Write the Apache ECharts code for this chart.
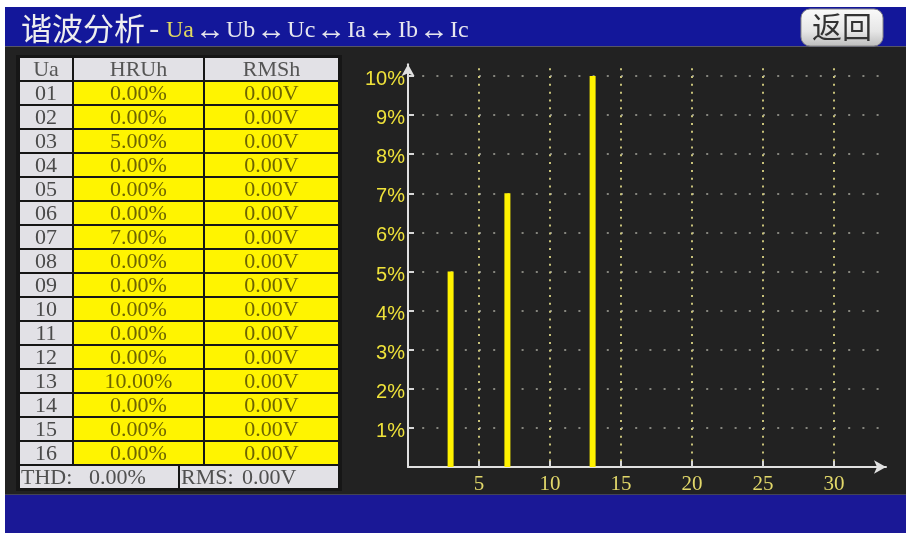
<!DOCTYPE html>
<html><head><meta charset="utf-8">
<script src="https://cdn.jsdelivr.net/npm/echarts@6/dist/echarts.min.js"></script>
<style>html,body{margin:0;padding:0;background:#fff;}#c{width:906px;height:533px;}</style>
</head><body><div id="c"></div>
<script>
// ---- data ----
const harmonicLabels = ['01','02','03','04','05','06','07','08','09','10','11','12','13','14','15','16'];
const harmonicOrders = [1,2,3,4,5,6,7,8,9,10,11,12,13,14,15,16];
const hruPercent = [0,0,5,0,0,0,7,0,0,0,0,0,10,0,0,0];
const rmsVolts = [0,0,0,0,0,0,0,0,0,0,0,0,0,0,0,0];
const thdPercent = 0;
const rmsTotalVolts = 0;
const tableHeaders = ['Ua','HRUh','RMSh'];
const channelNames = ['Ua','Ub','Uc','Ia','Ib','Ic'];
const xTickValues = [5,10,15,20,25,30];
const yTickValues = [1,2,3,4,5,6,7,8,9,10];

// ---- layout / style ----
const SERIF = '"Liberation Serif", "DejaVu Serif", serif';
const CJK = '"Noto Sans CJK SC", sans-serif';
const GRAY_CELL = '#e2e1e6';
const YELLOW_CELL = '#fff400';
const colX = [20, 74, 205];
const colW = [52, 129, 133];
const rowTop0 = 58, rowPitch = 24, rowH = 22;

const els = [];
// backgrounds
els.push({type:'rect', z:-100, shape:{x:5,y:7,width:901,height:40}, style:{fill:'#13179a'}});
els.push({type:'rect', z:-100, shape:{x:5,y:46,width:901,height:449}, style:{fill:'#222222'}});
els.push({type:'rect', z:-99, shape:{x:5,y:46,width:901,height:1}, style:{fill:'#555566'}});
els.push({type:'rect', z:-100, shape:{x:5,y:494,width:901,height:39}, style:{fill:'#1a1896'}});
els.push({type:'rect', z:-99, shape:{x:5,y:494,width:901,height:1}, style:{fill:'#444455'}});
// table frame
els.push({type:'rect', z:-98, shape:{x:16,y:55,width:326,height:436}, style:{fill:'#161616'}});

function cell(x, y, w, h, fill) {
  els.push({type:'rect', z:-90, shape:{x:x,y:y,width:w,height:h}, style:{fill:fill}});
}
function txt(text, x, y, fill, align, font) {
  els.push({type:'text', z:-80, x:x, y:y, style:{text:text, fill:fill, font:font || ('22px ' + SERIF), align:align || 'center', verticalAlign:'middle'}});
}
// header row
tableHeaders.forEach((h, c) => {
  cell(colX[c], rowTop0, colW[c], rowH, GRAY_CELL);
  txt(h, colX[c] + colW[c] / 2, rowTop0 + rowH / 2 + 1, '#555555');
});
// data rows
harmonicLabels.forEach((lab, i) => {
  const top = rowTop0 + rowPitch * (i + 1);
  cell(colX[0], top, colW[0], rowH, GRAY_CELL);
  cell(colX[1], top, colW[1], rowH, YELLOW_CELL);
  cell(colX[2], top, colW[2], rowH, YELLOW_CELL);
  txt(lab, colX[0] + colW[0] / 2, top + rowH / 2 + 1, '#4a4a4a');
  txt(hruPercent[i].toFixed(2) + '%', colX[1] + colW[1] / 2, top + rowH / 2 + 1, '#6f6500');
  txt(rmsVolts[i].toFixed(2) + 'V', colX[2] + colW[2] / 2, top + rowH / 2 + 1, '#6f6500');
});
// summary row
const sumTop = rowTop0 + rowPitch * 17;
cell(20, sumTop, 158, rowH, GRAY_CELL);
cell(180, sumTop, 158, rowH, GRAY_CELL);
txt('THD:', 21, sumTop + rowH / 2 + 1, '#505050', 'left');
txt(thdPercent.toFixed(2) + '%', 89, sumTop + rowH / 2 + 1, '#505050', 'left');
txt('RMS:', 181, sumTop + rowH / 2 + 1, '#505050', 'left');
txt(rmsTotalVolts.toFixed(2) + 'V', 242, sumTop + rowH / 2 + 1, '#505050', 'left');

// title: Chinese part
els.push({type:'text', z:-80, x:21, y:28, style:{
  text:'{t|谐波分析}{d|-}', verticalAlign:'middle', align:'left',
  rich:{
    t:{font:'31px ' + CJK, fill:'#eeeeee'},
    d:{font:'30px ' + CJK, fill:'#e6e6ee', padding:[0,0,0,4]}
  }
}});
// title: channel part
let chanText = '';
channelNames.forEach((n, i) => {
  chanText += (i === 0 ? '{y|' + n + '}' : '{s|' + n + '}');
  if (i < channelNames.length - 1) chanText += '{a|↔}';
});
els.push({type:'text', z:-80, x:166, y:31, style:{
  text: chanText, verticalAlign:'middle', align:'left',
  rich:{
    s:{font:'24px ' + SERIF, fill:'#e6e6ee'},
    y:{font:'24px ' + SERIF, fill:'#e0d860'},
    a:{font:'30px ' + SERIF, fill:'#e6e6ee', padding:[0,1,0,1]}
  }
}});
// back button
els.push({type:'rect', z:-80, shape:{x:801,y:9,width:82,height:37,r:9},
  style:{fill:new echarts.graphic.LinearGradient(0,0,0,1,[{offset:0,color:'#fafafa'},{offset:0.6,color:'#e6e6e6'},{offset:1,color:'#bdbdbd'}]), stroke:'#888', lineWidth:1}});
txt('返回', 842, 27, '#333333', 'center', '30px ' + CJK);

const barData = harmonicOrders.map((o, i) => [o, hruPercent[i]]);

const chart = echarts.init(document.getElementById('c'), null, {renderer:'canvas'});
chart.setOption({
  animation:false,
  backgroundColor:'transparent',
  graphic:{elements:els},
  grid:{left:408, right:20, top:64.3, bottom:66, containLabel:false},
  xAxis:{
    type:'value', min:0, max:33.66,
    axisLine:{show:true, symbol:['none','arrow'], symbolSize:[10,12], lineStyle:{color:'#e0e0e0', width:2}},
    axisTick:{show:true, inside:true, length:6, customValues:xTickValues, lineStyle:{color:'#d8d8d8', width:2}},
    axisLabel:{customValues:xTickValues, color:'#e2d86a', fontFamily:SERIF, fontSize:21, margin:7},
    splitLine:{show:true, lineStyle:{color:'#c8c27a', width:2, type:[2,5.82], dashOffset:3.9}}
  },
  yAxis:{
    type:'value', min:0, max:10.3,
    axisLine:{show:true, symbol:['none','arrow'], symbolSize:[10,12], lineStyle:{color:'#e0e0e0', width:2}},
    axisTick:{show:true, inside:true, length:6, customValues:yTickValues, lineStyle:{color:'#d8d8d8', width:2}},
    axisLabel:{customValues:yTickValues, formatter:'{value}%', color:'#efe23a', fontFamily:'"Liberation Sans", Arial, sans-serif', fontSize:20, margin:3, verticalAlign:'top', lineHeight:7},
    splitLine:{show:true, lineStyle:{color:'#85857e', width:2, type:[2,12.2]}}
  },
  series:[{
    type:'bar', data:barData, barWidth:6,
    itemStyle:{color:'#fff200'}, z:5
  }]
});
</script></body></html>
